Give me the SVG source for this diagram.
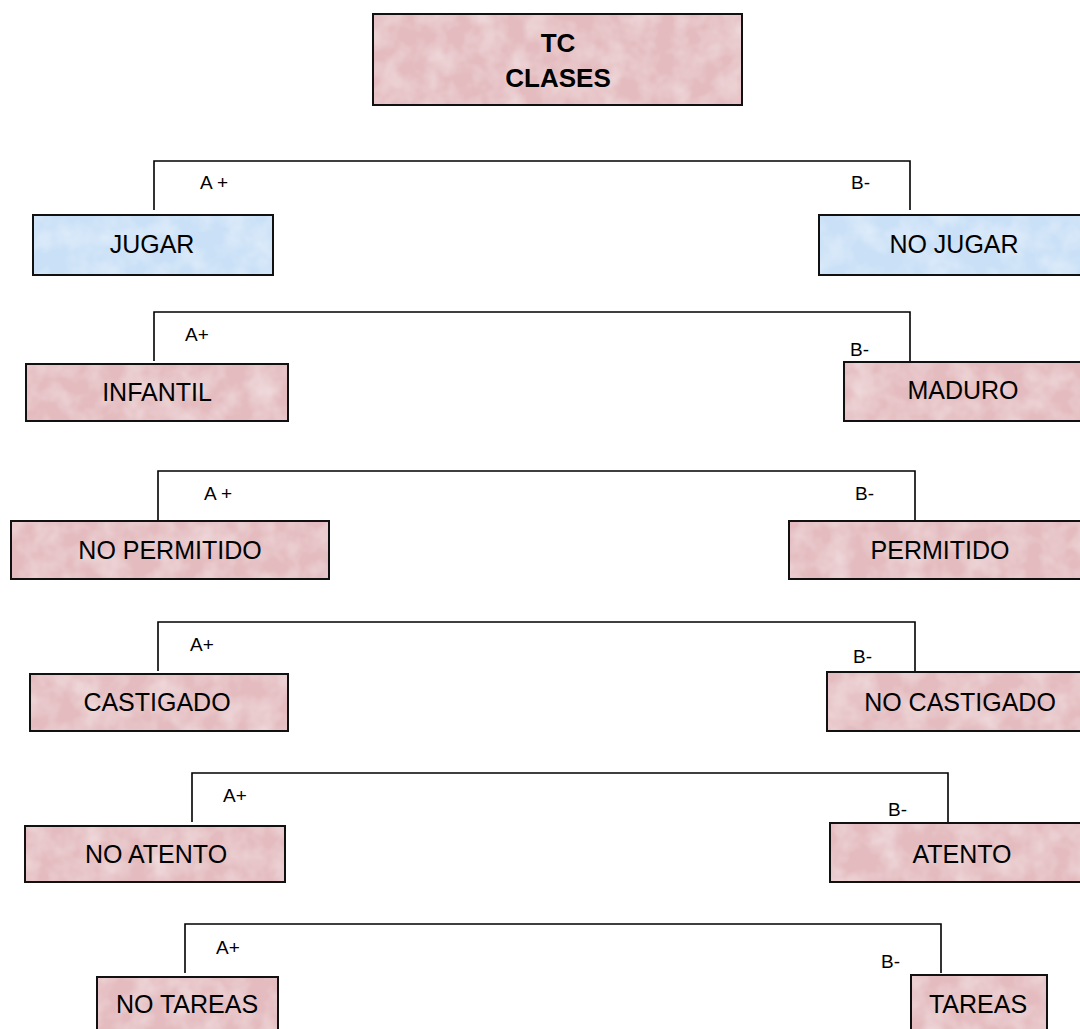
<svg xmlns="http://www.w3.org/2000/svg" width="1080" height="1029" viewBox="0 0 1080 1029">
<style>
  .pink { fill: #E4BCC0; }
  .blue { fill: #C9E0F7; }
  .border { fill: none; stroke: #111; stroke-width: 2; }
  .conn { fill: none; stroke: #000; stroke-width: 1.6; }
  .t { font-family: "Liberation Sans", Arial, sans-serif; font-size: 25px; fill: #000; text-anchor: middle; }
  .title { font-family: "Liberation Sans", Arial, sans-serif; font-size: 26px; font-weight: bold; fill: #000; text-anchor: middle; }
  .lbl { font-family: "Liberation Sans", Arial, sans-serif; font-size: 19px; fill: #000; }
</style>
<defs>
  <filter id="mottle" x="0" y="0" width="100%" height="100%">
    <feTurbulence type="fractalNoise" baseFrequency="0.04" numOctaves="3" seed="4" result="n"/>
    <feColorMatrix in="n" type="matrix" values="0 0 0 0 1  0 0 0 0 1  0 0 0 0 1  0 0 0 0.7 -0.25" result="w"/>
    <feComposite in="w" in2="SourceGraphic" operator="in" result="wc"/>
    <feMerge><feMergeNode in="SourceGraphic"/><feMergeNode in="wc"/></feMerge>
  </filter>
</defs>
<rect x="0" y="0" width="1080" height="1029" fill="#fff"/>

<g id="connectors">
  <path class="conn" d="M154 210 V161 H910 V210"/>
  <path class="conn" d="M154 361 V312 H910 V361"/>
  <path class="conn" d="M158 520 V471 H915 V520"/>
  <path class="conn" d="M158 671 V622 H915 V671"/>
  <path class="conn" d="M192 822 V773 H948 V822"/>
  <path class="conn" d="M185 973 V924 H941 V973"/>
  <text class="lbl" x="200" y="189">A +</text>
  <text class="lbl" x="851" y="189">B-</text>
  <text class="lbl" x="185" y="341">A+</text>
  <text class="lbl" x="850" y="356">B-</text>
  <text class="lbl" x="204" y="500">A +</text>
  <text class="lbl" x="855" y="500">B-</text>
  <text class="lbl" x="190" y="651">A+</text>
  <text class="lbl" x="853" y="663">B-</text>
  <text class="lbl" x="223" y="802">A+</text>
  <text class="lbl" x="888" y="816">B-</text>
  <text class="lbl" x="216" y="954">A+</text>
  <text class="lbl" x="881" y="968">B-</text>
</g>

<g id="node-tc">
  <rect class="pink" filter="url(#mottle)" x="373" y="14" width="369" height="91"/>
  <rect class="border" x="373" y="14" width="369" height="91"/>
  <text class="title" x="558" y="52">TC</text>
  <text class="title" x="558" y="87">CLASES</text>
</g>

<g id="node-jugar">
  <rect class="blue" filter="url(#mottle)" x="33" y="215" width="240" height="60"/>
  <rect class="border" x="33" y="215" width="240" height="60"/>
  <text class="t" x="152" y="253">JUGAR</text>
</g>
<g id="node-no-jugar">
  <rect class="blue" filter="url(#mottle)" x="819" y="215" width="270" height="60"/>
  <rect class="border" x="819" y="215" width="270" height="60"/>
  <text class="t" x="954" y="253">NO JUGAR</text>
</g>

<g id="node-infantil">
  <rect class="pink" filter="url(#mottle)" x="26" y="364" width="262" height="57"/>
  <rect class="border" x="26" y="364" width="262" height="57"/>
  <text class="t" x="157" y="401">INFANTIL</text>
</g>
<g id="node-maduro">
  <rect class="pink" filter="url(#mottle)" x="844" y="362" width="240" height="59"/>
  <rect class="border" x="844" y="362" width="240" height="59"/>
  <text class="t" x="963" y="399">MADURO</text>
</g>

<g id="node-no-permitido">
  <rect class="pink" filter="url(#mottle)" x="11" y="521" width="318" height="58"/>
  <rect class="border" x="11" y="521" width="318" height="58"/>
  <text class="t" x="170" y="559">NO PERMITIDO</text>
</g>
<g id="node-permitido">
  <rect class="pink" filter="url(#mottle)" x="789" y="521" width="300" height="58"/>
  <rect class="border" x="789" y="521" width="300" height="58"/>
  <text class="t" x="940" y="559">PERMITIDO</text>
</g>

<g id="node-castigado">
  <rect class="pink" filter="url(#mottle)" x="30" y="674" width="258" height="57"/>
  <rect class="border" x="30" y="674" width="258" height="57"/>
  <text class="t" x="157" y="711">CASTIGADO</text>
</g>
<g id="node-no-castigado">
  <rect class="pink" filter="url(#mottle)" x="827" y="672" width="265" height="59"/>
  <rect class="border" x="827" y="672" width="265" height="59"/>
  <text class="t" x="960" y="711">NO CASTIGADO</text>
</g>

<g id="node-no-atento">
  <rect class="pink" filter="url(#mottle)" x="25" y="826" width="260" height="56"/>
  <rect class="border" x="25" y="826" width="260" height="56"/>
  <text class="t" x="156" y="863">NO ATENTO</text>
</g>
<g id="node-atento">
  <rect class="pink" filter="url(#mottle)" x="830" y="823" width="265" height="59"/>
  <rect class="border" x="830" y="823" width="265" height="59"/>
  <text class="t" x="962" y="863">ATENTO</text>
</g>

<g id="node-no-tareas">
  <rect class="pink" filter="url(#mottle)" x="97" y="977" width="181" height="60"/>
  <rect class="border" x="97" y="977" width="181" height="60"/>
  <text class="t" x="187" y="1013">NO TAREAS</text>
</g>
<g id="node-tareas">
  <rect class="pink" filter="url(#mottle)" x="911" y="975" width="136" height="60"/>
  <rect class="border" x="911" y="975" width="136" height="60"/>
  <text class="t" x="978" y="1013">TAREAS</text>
</g>
</svg>
